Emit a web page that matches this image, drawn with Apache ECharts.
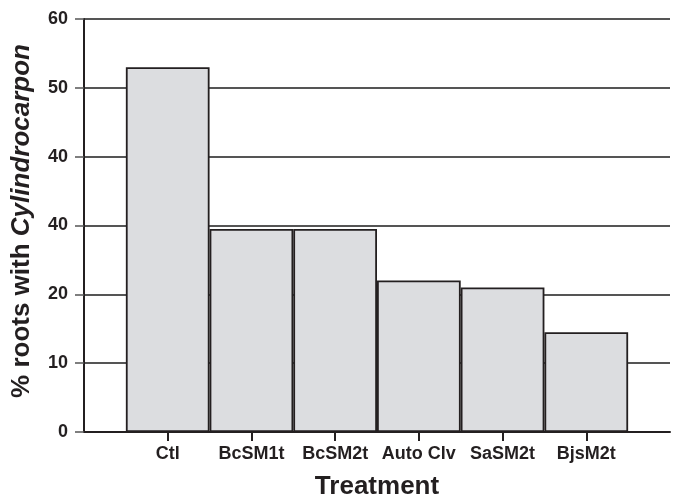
<!DOCTYPE html>
<html>
<head>
<meta charset="utf-8">
<script src="https://cdn.jsdelivr.net/npm/echarts@6/dist/echarts.min.js"></script>
<style>
html,body{margin:0;padding:0;background:#fff;}
#chart{width:673px;height:499px;}
</style>
</head>
<body>
<div id="chart"></div>
<script>
// Data
const categories = ['', 'Ctl', 'BcSM1t', 'BcSM2t', 'Auto Clv', 'SaSM2t', 'BjsM2t', ''];
const values = [null, 53, 29.5, 29.5, 22, 21, 14.5, null];
const yTickLabels = ['0', '10', '20', '40', '40', '50', '60'];
const xTitle = 'Treatment';
const yTitlePlain = '% roots with ';
const yTitleItalic = 'Cylindrocarpon';

const FONT = '"Liberation Sans", Arial, Helvetica, sans-serif';
const chart = echarts.init(document.getElementById('chart'), null, {renderer: 'canvas'});
chart.setOption({
  animation: false,
  backgroundColor: '#ffffff',
  grid: {left: 84, right: -3, top: 19, bottom: 67, containLabel: false},
  xAxis: {
    type: 'category',
    data: categories,
    boundaryGap: false,
    axisLine: {show: true, lineStyle: {color: '#231f20', width: 2}},
    axisTick: {show: true, length: 9, interval: function (i) { return i > 0 && i < categories.length - 1; },
      lineStyle: {color: '#231f20', width: 2}},
    axisLabel: {show: true, interval: 0, margin: 13, color: '#231f20', fontFamily: FONT, fontWeight: 'bold', fontSize: 18},
    splitLine: {show: false}
  },
  yAxis: {
    type: 'value',
    min: 0, max: 60, interval: 10,
    axisLine: {show: true, lineStyle: {color: '#231f20', width: 2}},
    axisTick: {show: true, length: 9, lineStyle: {color: '#555', width: 1.5}},
    axisLabel: {margin: 16, color: '#231f20', fontFamily: FONT, fontWeight: 'bold', fontSize: 18,
      formatter: function (v) { return yTickLabels[Math.round(v / 10)]; }},
    splitLine: {show: true, lineStyle: {color: '#555', width: 1.8}}
  },
  series: [{
    type: 'bar',
    data: values,
    barWidth: '100%',
    itemStyle: {color: '#dcdde0', borderColor: '#231f20', borderWidth: 1.8}
  }],
  graphic: [
    {
      type: 'text',
      x: 377, y: 474,
      style: {text: xTitle, fill: '#231f20', fontFamily: FONT, fontWeight: 'bold', fontSize: 26,
        align: 'center', verticalAlign: 'top'}
    },
    {
      type: 'text',
      x: 22, y: 221,
      rotation: Math.PI / 2,
      style: {
        text: '{a|' + yTitlePlain + '}{b|' + yTitleItalic + '}',
        align: 'center', verticalAlign: 'middle',
        rich: {
          a: {fill: '#231f20', fontFamily: FONT, fontWeight: 'bold', fontSize: 26},
          b: {fill: '#231f20', fontFamily: FONT, fontWeight: 'bold', fontStyle: 'italic', fontSize: 26}
        }
      }
    }
  ]
});
</script>
</body>
</html>
